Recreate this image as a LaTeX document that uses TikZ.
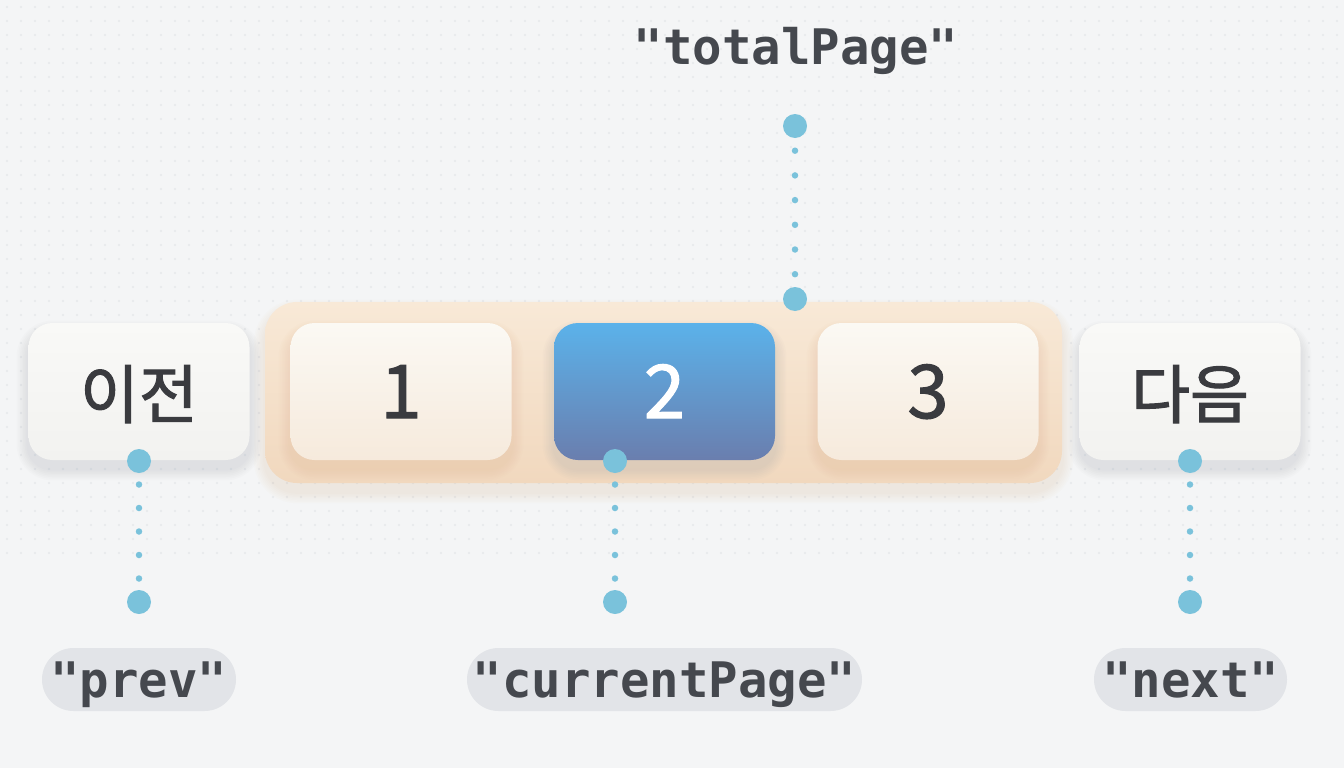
\documentclass[tikz,border=0pt]{standalone}
\usepackage{fontspec}
\newfontfamily\krfont[FakeBold=1.6]{Noto Sans CJK KR}
\newfontfamily\monofont[Ligatures=TeXOff]{DejaVu Sans Mono}
\definecolor{bgc}{HTML}{F4F5F6}
\definecolor{gridc}{HTML}{E6E8EA}
\definecolor{txt}{HTML}{3A3B3F}
\definecolor{lbltxt}{HTML}{45484E}
\definecolor{pillc}{HTML}{E2E4E8}
\definecolor{dotc}{HTML}{7AC2DB}
\definecolor{shadeg}{HTML}{8E96A0}
\definecolor{shadep}{HTML}{D9AE85}
\newcommand\mysoftshade[6]{%
  \foreach \k in {1,...,7}{%
    \pgfmathsetmacro\rr{#5+1.6*\k}
    \fill[#6, opacity=0.028, rounded corners=\rr pt]
      (#1-1.6*\k, #2-1.6*\k+9) rectangle (#3+1.6*\k, #4+1.6*\k+9);
  }}
\begin{document}
\begin{tikzpicture}[x=1pt,y=-1pt,
  container/.style={rounded corners=32pt, minimum width=797pt, minimum height=181pt,
    inner sep=0pt, top color={rgb,255:red,248;green,233;blue,215}, bottom color={rgb,255:red,241;green,216;blue,190}},
  navbtn/.style={rounded corners=24pt, minimum width=221pt, minimum height=137pt,
    inner sep=0pt, top color={rgb,255:red,249;green,249;blue,247}, bottom color={rgb,255:red,242;green,242;blue,240},
    text=txt, font=\krfont\fontsize{64}{64}\selectfont, text height=56pt, text depth=3pt},
  pagebtn/.style={navbtn, top color={rgb,255:red,251;green,249;blue,244}, bottom color={rgb,255:red,246;green,234;blue,220},
    font=\krfont\fontsize{74}{74}\selectfont},
  curbtn/.style={navbtn, top color={rgb,255:red,91;green,178;blue,234}, bottom color={rgb,255:red,106;green,126;blue,174},
    text=white, font=\krfont\fontsize{74}{74}\selectfont},
  bigdot/.style={circle, fill=dotc, minimum size=24pt, inner sep=0pt},
  dotline/.style={draw=dotc, line width=6.5pt, line cap=round, dash pattern=on 0pt off #1},
  pill/.style={rounded corners=31.5pt, fill=pillc, minimum height=63pt, inner sep=0pt,
    text=lbltxt, font=\monofont\bfseries\fontsize{49}{49}\selectfont, text height=40pt, text depth=5pt},
  toplabel/.style={text=lbltxt, font=\monofont\bfseries\fontsize{49}{49}\selectfont, inner sep=0pt}
]
\useasboundingbox (0,0) rectangle (1344,768);
\fill[bgc] (0,0) rectangle (1344,768);
% faint dot texture
\foreach \i in {0,...,95}{\foreach \j in {0,...,39}{\fill[gridc] (7+14*\i,7+14*\j) circle (1.1);}}

% soft shadows
\mysoftshade{265}{302}{1062}{483}{32}{shadep}
\mysoftshade{28}{323}{250}{460}{24}{shadeg}
\mysoftshade{1080}{323}{1300}{460}{24}{shadeg}

% pagination group
\node[container] (pager) at (663.5,392.5) {};
\mysoftshade{290}{323}{512}{460}{24}{shadep}
\mysoftshade{554}{323}{775}{460}{24}{shadeg}
\mysoftshade{818}{323}{1038}{460}{24}{shadep}

\node[navbtn] (prev) at (139,391.5) {이전};
\node[pagebtn] (p1) at (401,391.5) {1};
\node[curbtn] (p2) at (664.5,391.5) {2};
\node[pagebtn] (p3) at (928,391.5) {3};
\node[navbtn] (next) at (1190,391.5) {다음};

% anchor dots
\node[bigdot] (tA) at (795,126) {};
\node[bigdot] (tB) at (795,299) {};
\node[bigdot] (pA) at (139,461) {};
\node[bigdot] (pB) at (139,602) {};
\node[bigdot] (cA) at (615,461) {};
\node[bigdot] (cB) at (615,602) {};
\node[bigdot] (nA) at (1190,461) {};
\node[bigdot] (nB) at (1190,602) {};

\draw[dotline=24.7pt] (tA.center) -- (tB.center);
\draw[dotline=23.5pt] (pA.center) -- (pB.center);
\draw[dotline=23.5pt] (cA.center) -- (cB.center);
\draw[dotline=23.5pt] (nA.center) -- (nB.center);

% labels
\node[toplabel, anchor=base] (ltot) at (796,64) {"totalPage"};
\node[pill, minimum width=194pt] (lprev) at (139,679.5) {"prev"};
\node[pill, minimum width=395pt] (lcur) at (664.5,679.5) {"currentPage"};
\node[pill, minimum width=193pt] (lnext) at (1190.5,679.5) {"next"};
\end{tikzpicture}
\end{document}
